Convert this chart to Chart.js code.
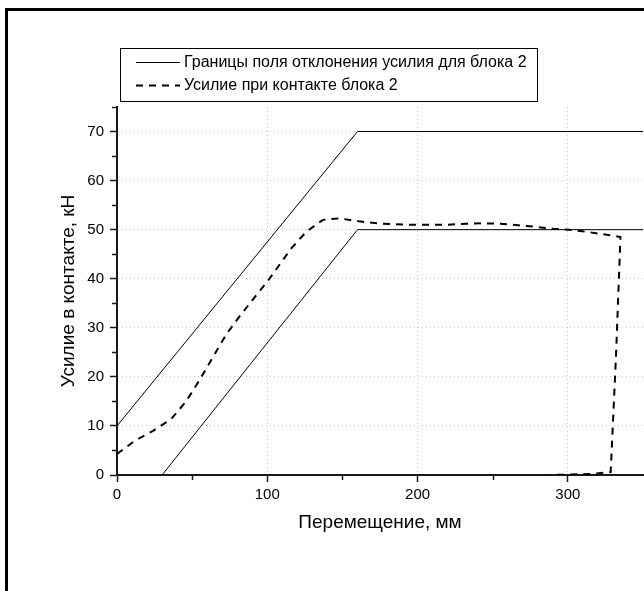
<!DOCTYPE html>
<html>
<head>
<meta charset="utf-8">
<script src="https://cdn.jsdelivr.net/npm/chart.js@4"></script>
<style>
  body { margin: 0; background: #fff; }
  #wrap { width: 644px; height: 591px; position: relative; }
</style>
</head>
<body>
<div id="wrap"><canvas id="myChart" width="644" height="591"></canvas></div>
<script>
const legendLabels = [
  'Границы поля отклонения усилия для блока 2',
  'Усилие при контакте блока 2'
];
const xTitle = 'Перемещение, мм';
const yTitle = 'Усилие в контакте, кН';

// upper and lower bounds of the allowed band
const upperX = [0, 160, 350];
const upperY = [10, 70, 70];
const lowerX = [30, 160, 350];
const lowerY = [0, 50, 50];

// measured contact force (loading, then unloading back to zero)
const contactX = [0, 12, 24, 36, 46, 54, 73, 82, 91, 100, 108, 116, 126, 137, 148, 161,
  173, 184, 196, 208, 219, 232, 244, 255, 267, 278, 290, 301, 314, 325, 335, 332, 328.5, 315, 288];
const contactY = [4.3, 7, 9, 11.4, 15, 18.9, 28.8, 32.5, 36, 39.4, 42.8, 46.2, 49.6, 52, 52.3, 51.7,
  51.3, 51.1, 51, 51, 51, 51.2, 51.3, 51.2, 50.9, 50.6, 50.2, 50, 49.5, 49, 48.5, 24, 0.6, 0.2, 0];

const xMinor = [50, 150, 250];
const yMinor = [5, 15, 25, 35, 45, 55, 65, 75];

function toPoints(xs, ys) {
  return xs.map((x, i) => ({ x: x, y: ys[i] }));
}

Chart.defaults.font.family = '"Liberation Sans", Arial, sans-serif';
Chart.defaults.color = '#000';

const axisColor = '#1a1a1a';
const gridColor = '#c8c8c8';

const extras = {
  id: 'extras',
  beforeDraw(chart) {
    const ctx = chart.ctx;
    ctx.save();
    ctx.fillStyle = '#000';
    ctx.fillRect(5, 8, 639, 3);
    ctx.fillRect(5, 8, 3, 583);
    ctx.restore();
  },
  afterDraw(chart) {
    const ctx = chart.ctx;
    const xs = chart.scales.x, ys = chart.scales.y;
    const area = chart.chartArea;
    ctx.save();
    ctx.strokeStyle = axisColor;
    ctx.lineWidth = 1.5;
    ctx.beginPath();
    yMinor.forEach(v => {
      const py = Math.round(ys.getPixelForValue(v)) + 0.5;
      ctx.moveTo(area.left - 5, py);
      ctx.lineTo(area.left, py);
    });
    xMinor.forEach(v => {
      const px = Math.round(xs.getPixelForValue(v)) + 0.5;
      ctx.moveTo(px, area.bottom);
      ctx.lineTo(px, area.bottom + 5);
    });
    ctx.stroke();

    // legend box
    ctx.lineWidth = 1;
    ctx.strokeStyle = '#000';
    ctx.strokeRect(120.5, 48.5, 417, 53);
    ctx.font = '16px "Liberation Sans", Arial, sans-serif';
    ctx.fillStyle = '#000';
    ctx.textBaseline = 'middle';
    const rows = [62, 85];
    chart.data.datasets.forEach((ds, i) => {
      if (i === 2) return;
      const row = i === 0 ? 0 : 1;
      ctx.save();
      ctx.lineWidth = ds.borderWidth;
      ctx.setLineDash(ds.borderDash || []);
      ctx.beginPath();
      ctx.moveTo(136, rows[row] + 0.5);
      ctx.lineTo(180, rows[row] + 0.5);
      ctx.stroke();
      ctx.restore();
      ctx.fillText(legendLabels[row], 184, rows[row] + 1);
    });
    ctx.restore();
  }
};

const chartData = {
  datasets: [
    {
      data: toPoints(upperX, upperY),
      borderColor: '#000',
      borderWidth: 1
    },
    {
      data: toPoints(contactX, contactY),
      borderColor: '#000',
      borderWidth: 2,
      borderDash: [7, 6]
    },
    {
      data: toPoints(lowerX, lowerY),
      borderColor: '#000',
      borderWidth: 1
    }
  ]
};

const config = {
  type: 'line',
  data: chartData,
  options: {
    responsive: false,
    animation: false,
    layout: { padding: { top: 107, right: 1, left: 0, bottom: 0 } },
    elements: { point: { radius: 0 }, line: { tension: 0 } },
    plugins: { legend: { display: false }, tooltip: { enabled: false } },
    scales: {
      x: {
        type: 'linear',
        min: 0,
        max: 350,
        afterFit(scale) { scale.height = 116; },
        ticks: { stepSize: 100, includeBounds: false, padding: 4, font: { size: 15 } },
        grid: { color: gridColor, lineWidth: 1, tickColor: axisColor, tickLength: 7, tickWidth: 1.5 },
        border: { color: axisColor, width: 2, dash: [1, 3] },
        title: { display: true, text: xTitle, font: { size: 19 }, padding: { top: 0, bottom: 57 } }
      },
      y: {
        min: 0,
        max: 75,
        afterFit(scale) { scale.width = 117; },
        ticks: { stepSize: 10, includeBounds: false, padding: 6, font: { size: 15 } },
        grid: { color: gridColor, lineWidth: 1, tickColor: axisColor, tickLength: 7, tickWidth: 1.5 },
        border: { color: axisColor, width: 2, dash: [1, 3] },
        title: { display: true, text: yTitle, font: { size: 19 }, padding: { top: 57, bottom: 0 } }
      }
    }
  },
  plugins: [extras]
};

const myChart = new Chart(document.getElementById('myChart'), config);
</script>
</body>
</html>
